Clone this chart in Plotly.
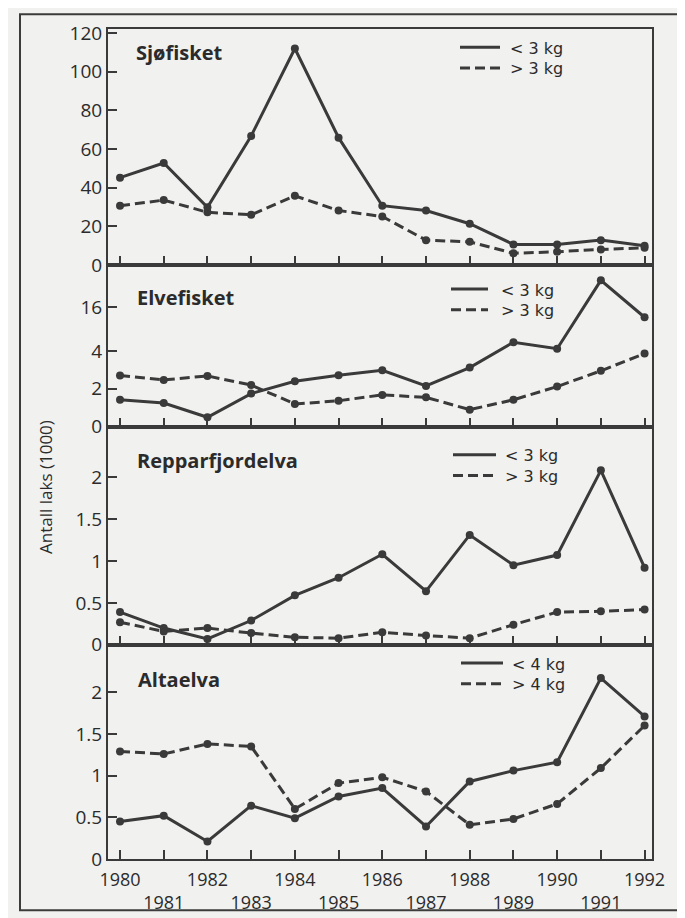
import plotly.graph_objects as go
from plotly.subplots import make_subplots

years = list(range(1980, 1993))
year_labels = [str(y) if y % 2 == 0 else "<br>" + str(y) for y in years]

# Sjøfisket (1000 fish)
sjo_lt3 = [45.1, 52.7, 29.8, 66.7, 111.9, 65.8, 30.6, 28.1, 21.3, 10.6, 10.6, 12.8, 9.9]
sjo_gt3 = [30.6, 33.5, 27.2, 25.9, 35.7, 28.1, 25.0, 12.8, 11.9, 6.0, 6.8, 8.0, 8.8]
# Elvefisket (axis compressed above 4)
elv_lt3 = [1.42, 1.25, 0.5, 1.75, 2.4, 2.72, 2.98, 2.15, 3.12, 6.4, 4.6, 23.5, 13.3]
elv_gt3 = [2.7, 2.47, 2.68, 2.2, 1.2, 1.37, 1.68, 1.55, 0.9, 1.42, 2.12, 2.95, 3.86]
# Repparfjordelva
rep_lt3 = [0.39, 0.20, 0.07, 0.29, 0.59, 0.80, 1.08, 0.64, 1.31, 0.95, 1.07, 2.08, 0.92]
rep_gt3 = [0.27, 0.16, 0.20, 0.14, 0.09, 0.08, 0.15, 0.11, 0.08, 0.24, 0.39, 0.40, 0.42]
# Altaelva
alt_lt4 = [0.45, 0.52, 0.21, 0.64, 0.49, 0.75, 0.85, 0.39, 0.93, 1.06, 1.16, 2.17, 1.71]
alt_gt4 = [1.29, 1.26, 1.38, 1.35, 0.60, 0.91, 0.98, 0.81, 0.41, 0.48, 0.66, 1.09, 1.60]

panel_titles = ["Sjøfisket", "Elvefisket", "Repparfjordelva", "Altaelva"]
legend_labels = [("&lt; 3 kg", "&gt; 3 kg"), ("&lt; 3 kg", "&gt; 3 kg"),
                 ("&lt; 3 kg", "&gt; 3 kg"), ("&lt; 4 kg", "&gt; 4 kg")]

sjo_ticks = [0, 20, 40, 60, 80, 100, 120]
elv_ticks = [0, 2, 4, 16]
rep_ticks = [0, 0.5, 1, 1.5, 2]
alt_ticks = [0, 0.5, 1, 1.5, 2]

# Elvefisket scale: linear up to 4, compressed above
ELV_BREAK = 4
ELV_K = 0.191


def elv_t(v):
    return v if v <= ELV_BREAK else ELV_BREAK + (v - ELV_BREAK) * ELV_K


INK = "#3a3a3a"
TXT = "#2b2b2b"
BG = "#f1f1ef"
FONT = "Open Sans"
KEYFONT = "DejaVu Sans"
DASH = "10px,5px"

# pixel frame of the plotting area
L, R, T, B = 100, 644, 21, 862
W, H = 685, 918


def px(x):
    return (x - L) / (R - L)


def py(y):
    return (B - y) / (B - T)


fig = make_subplots(rows=4, cols=1, shared_xaxes=True, vertical_spacing=0,
                    row_heights=[239, 164, 221, 217])

series = [
    (sjo_lt3, sjo_gt3, lambda v: v),
    (elv_lt3, elv_gt3, elv_t),
    (rep_lt3, rep_gt3, lambda v: v),
    (alt_lt4, alt_gt4, lambda v: v),
]

for i, (a, b, tf) in enumerate(series):
    row = i + 1
    for vals, dash, nm in ((b, DASH, legend_labels[i][1]), (a, "solid", legend_labels[i][0])):
        fig.add_trace(go.Scatter(
            x=years, y=[tf(v) for v in vals], mode="lines+markers", name=nm,
            line=dict(color=INK, width=3, dash=dash),
            marker=dict(color=INK, size=8), showlegend=False,
            hoverinfo="skip"), row=row, col=1)

axis_common = dict(showline=True, linecolor=INK, linewidth=2, mirror=True,
                   showgrid=False, zeroline=False, ticks="inside", ticklen=9,
                   tickwidth=2, tickcolor=INK)

for r in range(1, 5):
    fig.update_xaxes(row=r, col=1, range=[1979.725, 1992.17], tickvals=years,
                     ticktext=year_labels, tickangle=0, ticklabelstandoff=3,
                     tickfont=dict(family=FONT, size=18, color=TXT),
                     showticklabels=(r == 4), **axis_common)

ytf = dict(family=FONT, size=19, color=TXT)
fig.update_yaxes(row=1, col=1, range=[0, 122], tickvals=sjo_ticks, tickfont=ytf, **axis_common)
fig.update_yaxes(row=2, col=1, range=[0, 8.54], tickvals=[elv_t(v) for v in elv_ticks],
                 ticktext=[str(v) for v in elv_ticks], tickfont=ytf, **axis_common)
fig.update_yaxes(row=3, col=1, range=[0, 2.6], tickvals=rep_ticks,
                 ticktext=["0", "0.5", "1", "1.5", "2"], tickfont=ytf, **axis_common)
fig.update_yaxes(row=4, col=1, range=[0, 2.568], tickvals=alt_ticks,
                 ticktext=["0", "0.5", "1", "1.5", "2"], tickfont=ytf, **axis_common)

# panel titles
title_xy = [(126, 45), (127, 293), (127, 458), (128, 680)]
for t, (tx, ty) in zip(panel_titles, title_xy):
    fig.add_annotation(text=f"<b>{t}</b>", xref="paper", yref="paper", x=px(tx), y=py(ty),
                       xanchor="left", yanchor="middle", showarrow=False,
                       font=dict(family=FONT, size=20, color=TXT))

# per-panel key: sample line (x0, x1), text x, row y's
keys = [
    (452, 492, 500, 39.5, 60.5),
    (443, 480, 491, 284.5, 305.5),
    (445, 488, 495, 452.5, 473.5),
    (453, 495, 502, 663.5, 684.5),
]
for i, (x0, x1, tx, y1, y2) in enumerate(keys):
    for lab, dash, yy in ((legend_labels[i][0], "solid", y1), (legend_labels[i][1], "dash", y2)):
        fig.add_shape(type="line", xref="paper", yref="paper", x0=px(x0), x1=px(x1),
                      y0=py(yy), y1=py(yy),
                      line=dict(color=INK, width=3, dash=DASH if dash == "dash" else "solid"))
        fig.add_annotation(text=lab, xref="paper", yref="paper", x=px(tx), y=py(yy + 1),
                           xanchor="left", yanchor="middle", showarrow=False,
                           font=dict(family=KEYFONT, size=16, color=TXT))

fig.add_annotation(text="Antall laks (1000)", xref="paper", yref="paper", x=px(38), y=py(485),
                   textangle=-90, showarrow=False, xanchor="center", yanchor="middle",
                   font=dict(family=FONT, size=17, color=TXT))

# outer frame around the whole figure
fig.add_shape(type="rect", xref="paper", yref="paper", x0=px(12), x1=px(675),
              y0=py(914), y1=py(6), line=dict(color="#3c3c3c", width=2))

fig.update_layout(width=W, height=H, margin=dict(l=L, r=W - R, t=T, b=H - B),
                  paper_bgcolor=BG, plot_bgcolor=BG, showlegend=False)

fig.write_html("out.html")
